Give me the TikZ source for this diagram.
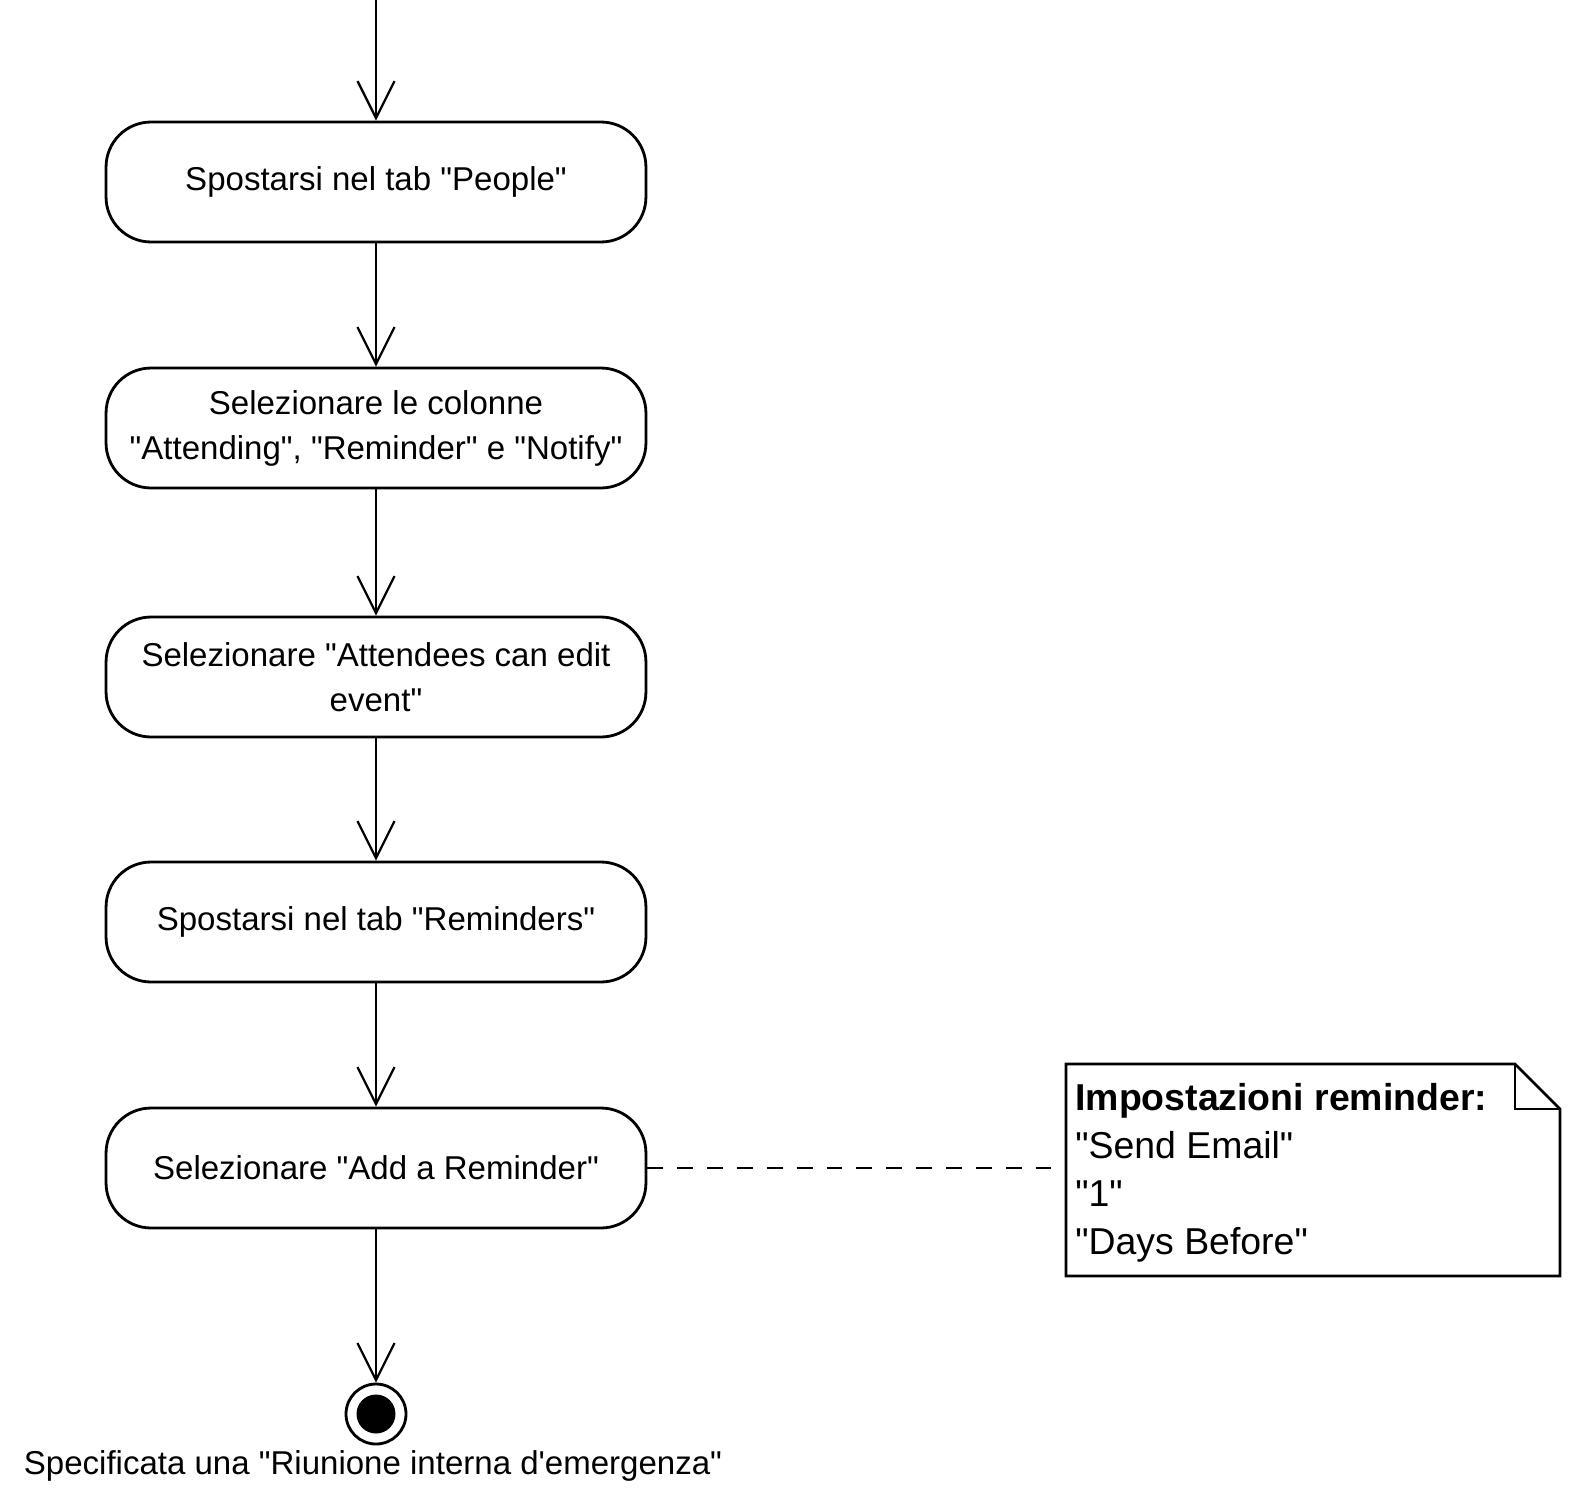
\documentclass[tikz,border=0pt]{standalone}
\usepackage{fontspec}
\setmainfont{Liberation Sans}
\usepackage{tikz}
\usetikzlibrary{arrows.meta,positioning,calc}

% straight quotes, as printed in the diagram
\newcommand{\dq}{\textquotedbl}
\newcommand{\sq}{\textquotesingle}

\begin{document}
\begin{tikzpicture}[
  x=0.02cm, y=-0.02cm,
  >={Straight Barb[length=7.4mm,width=7.4mm]},
  act/.style={draw, line width=1.6pt, rectangle, rounded corners=0.9cm,
              minimum width=10.8cm, minimum height=2.4cm,
              inner sep=2pt, align=center, font=\fontsize{18.8}{25.6}\selectfont},
  flow/.style={->, line width=1.3pt},
]
\useasboundingbox (0,0) rectangle (1569,1495);

%%---- Activities ----------------------------------------------------
\coordinate (start) at (376,0);
\node[act] (people)   at (376,182)  {Spostarsi nel tab \dq People\dq};
\node[act] (colonne)  at (376,428)  {Selezionare le colonne\\\dq Attending\dq, \dq Reminder\dq\ e \dq Notify\dq};
\node[act] (edit)     at (376,677)  {Selezionare \dq Attendees can edit\\event\dq};
\node[act] (remtab)   at (376,922)  {Spostarsi nel tab \dq Reminders\dq};
\node[act] (addrem)   at (376,1168) {Selezionare \dq Add a Reminder\dq};

%%---- Final node ----------------------------------------------------
\node[draw, circle, line width=1.6pt, minimum size=1.2cm, inner sep=0pt] (fin) at (376,1414) {};
\fill (fin.center) circle (0.39cm);
\node[font=\fontsize{18.8}{22}\selectfont] (finlbl) at (373,1466)
  {Specificata una \dq Riunione interna d\sq emergenza\dq};

%%---- Flow ----------------------------------------------------------
\draw[flow] (start) -- (people.north);
\draw[flow] (people) -- (colonne);
\draw[flow] (colonne) -- (edit);
\draw[flow] (edit) -- (remtab);
\draw[flow] (remtab) -- (addrem);
\draw[flow] (addrem) -- (fin);

%%---- Note ----------------------------------------------------------
\coordinate (nNW) at (1066,1064);
\coordinate (nSE) at (1560,1276);
\draw[line width=1.6pt, fill=white]
  (nNW) -- (1515,1064) -- (1560,1109) -- (nSE) -- (1066,1276) -- cycle;
\draw[line width=1.6pt] (1515,1064) -- (1515,1109) -- (1560,1109);
\node[anchor=north west, align=left, inner sep=0pt,
      font=\fontsize{21.3}{27.3}\selectfont] (note) at (1075,1083)
  {\textbf{Impostazioni reminder:}\\\dq Send Email\dq\\\dq 1\dq\\\dq Days Before\dq};
\coordinate (noteW) at (1066,1168);
\draw[line width=1.3pt, dash pattern=on 9pt off 8pt] (addrem.east) -- (noteW);

\end{tikzpicture}
\end{document}
